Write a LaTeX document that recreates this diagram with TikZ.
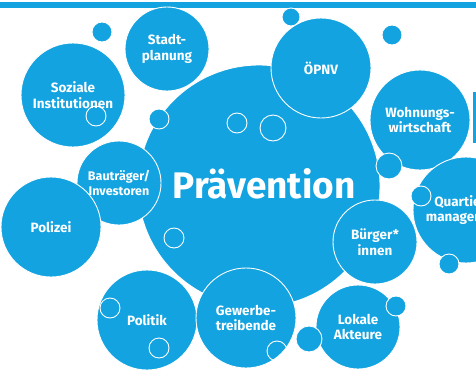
\documentclass[tikz,border=0pt]{standalone}
\usepackage{fontspec}
\setmainfont{Fira Sans}
\definecolor{bub}{RGB}{18,163,224}
\begin{document}
\begin{tikzpicture}[x=1pt,y=-1pt,
  bubble/.style={circle,fill=bub,draw=white,line width=0.9pt,inner sep=0pt,text=white,font=\bfseries\fontsize{13.5}{15.5}\selectfont,align=center},
  dot/.style={circle,fill=bub,draw=white,line width=0.9pt,inner sep=0pt},
  ring/.style={circle,draw=white,line width=0.9pt,inner sep=0pt}]
\useasboundingbox (0,0) rectangle (476,372);
\fill[bub] (0,2) rectangle (476,7.5);
\fill[bub] (472.5,92) rectangle (476,143);
% main
\node[bubble,minimum size=242pt] (prae) at (259,186) {};
\node[text=white,font=\bfseries\fontsize{37}{40}\selectfont] (praet) at (264,184) {Prävention};
% satellites
\node[dot,minimum size=20pt] (d1) at (102,32) {};
\node[bubble,minimum size=104pt] (soz) at (73,95) {Soziale\\Institutionen};
\node[bubble,minimum size=84pt] (stadt) at (167,49) {Stadt-\\planung};
\node[dot,minimum size=20pt] (d2) at (159,119) {};
\node[dot,minimum size=18pt] (d3) at (291,17) {};
\node[bubble,minimum size=100pt] (oepnv) at (321,68) {ÖPNV};
\node[dot,minimum size=20pt] (d4) at (392,35) {};
\node[bubble,minimum size=100pt] (wohn) at (420,120) {Wohnungs-\\wirtschaft};
\node[dot,minimum size=26pt] (d5) at (389,166) {};
\node[bubble,minimum size=106pt] (quart) at (466,210) {Quartiers-\\management};
\node[dot,minimum size=20pt] (d6) at (421,196) {};
\node[dot,minimum size=20pt] (d7) at (449,264) {};
\node[bubble,minimum size=84pt,font=\bfseries\fontsize{12.5}{15}\selectfont] (bau) at (119,183) {Bauträger/\\Investoren};
\node[bubble,minimum size=100pt] (pol) at (51,227) {Polizei};
\node[bubble,minimum size=100pt] (politik) at (147,320) {Politik};
\node[bubble,minimum size=100pt] (gew) at (246,318) {Gewerbe-\\treibende};
\node[bubble,minimum size=84pt] (bue) at (375,242) {Bürger*\\innen};
\node[bubble,minimum size=84pt] (lok) at (358,327) {Lokale\\Akteure};
\node[dot,minimum size=20pt] (d8) at (396,306) {};
\node[dot,minimum size=26pt] (d9) at (309,339) {};
% rings
\node[ring,minimum size=20pt] (r1) at (96,116) {};
\node[ring,minimum size=20pt] (r2) at (237,123) {};
\node[ring,minimum size=26pt] (r3) at (273,128) {};
\node[ring,minimum size=20pt] (r4) at (174,238) {};
\node[ring,minimum size=20pt] (r5) at (110,308) {};
\node[ring,minimum size=20pt] (r6) at (159,348) {};
\node[ring,minimum size=20pt] (r7) at (277,351) {};
\end{tikzpicture}
\end{document}
